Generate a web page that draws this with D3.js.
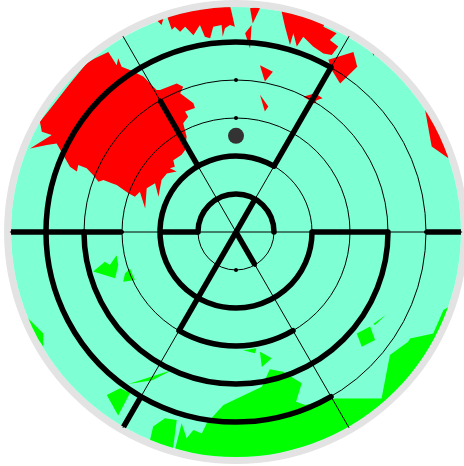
<!DOCTYPE html>
<html><head><meta charset="utf-8">
<script src="https://cdn.jsdelivr.net/npm/d3@7"></script>
<style>html,body{margin:0;padding:0;background:#fff;}svg{display:block;}</style>
</head><body>
<svg id="chart" width="464" height="466"></svg>
<script>
// ---- data (ring units; angles in degrees clockwise from top) ----
const ringRadii = [1, 2, 3, 4, 5];
const spokeAngles = [30, 90, 150, 210, 270, 330];
const dotAngles = [0, 30, 90, 150, 180, 210, 270, 330];
const outerRing = 5.92;
// thick wall arcs: [ring, startAngle, endAngle]
const wallArcRing = [1, 2, 3, 4, 5];
const wallArcStart = [-90, 90, 150, 90, 150];
const wallArcEnd = [90, 390, 210, 270, 390];
// thick wall spoke segments: [angle, fromRing, toRing]
const wallSpokeAngle = [30, 30, 90, 90, 150, 210, 210, 270, 270, 330];
const wallSpokeFrom = [0, 2, 2, 5, 0, 0, 5, 1, 3, 2];
const wallSpokeTo = [1, 5, 4, 6, 1, 3, 6, 2, 6, 4];
const marker = [0, 2.53];
// regions, [x, y] in ring units
const redRegions = [
  [[-3.71,4.57],[-3.36,4.74],[-3.14,4.39],[-3.10,4.57],[-3.01,4.35],[-2.79,4.26],[-2.44,4.09],[-2.09,3.74],[-2.00,3.74],[-1.56,3.91],[-1.39,3.82],[-1.47,3.65],[-1.12,3.39],[-1.08,3.26],[-1.34,3.17],[-1.26,3.03],[-1.39,2.86],[-1.30,2.51],[-1.34,2.16],[-1.43,2.03],[-1.65,1.89],[-1.61,1.72],[-1.74,1.68],[-1.56,1.59],[-1.82,1.54],[-1.96,1.37],[-2.04,0.93],[-2.13,1.28],[-2.35,1.15],[-2.39,0.62],[-2.53,1.06],[-2.66,0.93],[-2.83,1.02],[-3.14,1.24],[-3.27,1.28],[-3.49,1.37],[-3.62,1.32],[-3.76,1.50],[-3.93,1.68],[-4.15,1.76],[-4.19,1.59],[-4.37,1.72],[-4.72,2.33],[-4.98,2.29],[-5.42,2.20],[-4.85,2.55],[-5.11,2.64],[-5.16,2.90],[-4.81,3.34],[-4.37,3.91],[-3.93,4.44]],
  [[-2.09,5.58],[-1.91,5.62],[-1.96,5.45]],
  [[-1.82,5.71],[-1.43,5.84],[-1.21,6.16],[-0.21,6.16],[-0.11,5.76],[-0.03,5.40],[-0.16,5.45],[-0.29,5.36],[-0.35,5.14],[-0.38,5.45],[-0.60,5.40],[-0.68,5.10],[-0.82,5.14],[-0.95,5.45],[-1.12,5.18],[-1.21,5.27],[-1.34,5.40],[-1.47,5.27],[-1.61,5.40],[-1.69,5.32],[-1.78,5.58]],
  [[0.37,5.89],[0.65,5.93],[0.44,5.49]],
  [[0.24,5.23],[0.41,5.45],[0.37,4.83]],
  [[1.20,5.80],[1.21,5.97],[2.47,5.84],[2.30,5.40],[2.65,5.23],[2.47,5.05],[2.69,4.88],[2.52,4.66],[2.30,4.70],[2.03,4.88],[1.77,5.14],[1.60,4.88],[1.51,5.23],[1.42,4.92],[1.29,5.40]],
  [[2.43,4.53],[3.09,4.74],[3.19,4.35],[2.74,3.91],[2.52,4.26]],
  [[0.63,4.39],[0.97,4.22],[0.76,3.96]],
  [[0.63,3.61],[0.85,3.30],[0.76,3.17]],
  [[1.77,3.56],[2.08,3.65],[2.28,3.52],[2.12,3.47],[2.08,3.38]],
  [[4.96,3.30],[6.16,2.95],[5.59,1.94],[5.15,2.25]],
  [[3.58,4.74],[3.68,4.72],[3.62,4.64]]
];
const greenRegions = [
  [[-2.26,-5.47],[-2.18,-5.12],[-1.87,-4.90],[-1.56,-4.95],[-1.65,-5.65],[-1.87,-6.26],[-2.53,-6.26]],
  [[-1.61,-5.74],[-1.43,-5.03],[-1.30,-5.43],[-1.12,-5.21],[-0.90,-5.30],[-0.77,-5.03],[-0.33,-4.55],[0.68,-4.07],[0.89,-3.61],[1.24,-3.68],[1.73,-3.98],[1.58,-4.47],[1.82,-4.55],[2.61,-4.38],[3.83,-4.38],[4.05,-3.24],[4.53,-2.89],[4.58,-2.80],[5.19,-2.67],[5.46,-2.05],[5.68,-1.92],[6.4,-6.5],[-1.74,-6.5]],
  [[3.18,-2.67],[3.53,-2.49],[3.66,-2.84],[3.31,-3.02]],
  [[3.61,-2.42],[3.95,-2.18],[3.66,-2.45]],
  [[0.63,-3.15],[0.94,-3.32],[0.68,-3.55]],
  [[0.19,-3.11],[0.54,-3.06],[0.50,-3.19]],
  [[-2.83,-4.0],[-1.68,-3.63],[-2.2,-3.9]],
  [[-3.76,-1.04],[-3.45,-0.78],[-3.32,-0.87],[-3.14,-0.61],[-3.10,-0.87],[-3.18,-1.22]],
  [[-2.92,-1.09],[-2.79,-0.96],[-2.66,-1.26],[-2.97,-1.31]],
  [[-5.47,-2.27],[-5.07,-2.67],[-5.07,-3.02],[-5.16,-2.89],[-5.82,-2.58]],
  [[-3.40,-4.29],[-3.05,-4.11],[-2.79,-4.24],[-3.10,-4.83]]
];

// ---- layout ----
const cx = 236, cy = 232, unit = 38;
const x = d3.scaleLinear().domain([-6, 6]).range([cx - 6 * unit, cx + 6 * unit]);
const y = d3.scaleLinear().domain([-6, 6]).range([cy + 6 * unit, cy - 6 * unit]);
const r = d3.scaleLinear().domain([0, 6]).range([0, 6 * unit]);
const toRad = d => (d - 90) * Math.PI / 180; // screen angle

const svg = d3.select('#chart');
const defs = svg.append('defs');
defs.append('clipPath').attr('id', 'disk')
  .append('circle').attr('cx', cx).attr('cy', cy).attr('r', r(outerRing));

svg.append('circle').attr('cx', cx).attr('cy', cy).attr('r', r(outerRing) + 3.5)
  .attr('fill', 'none').attr('stroke', '#e3e3e3').attr('stroke-width', 7);
svg.append('circle').attr('cx', cx).attr('cy', cy).attr('r', r(outerRing))
  .attr('fill', '#7fffd4');

const regions = svg.append('g').attr('clip-path', 'url(#disk)');
const line = d3.line().x(d => x(d[0])).y(d => y(d[1])).curve(d3.curveLinearClosed);
regions.selectAll('path.red').data(redRegions).join('path')
  .attr('class', 'red').attr('d', line).attr('fill', '#ff0000');
regions.selectAll('path.green').data(greenRegions).join('path')
  .attr('class', 'green').attr('d', line).attr('fill', '#00ff00');

// thin grid
svg.append('g').selectAll('circle').data(ringRadii).join('circle')
  .attr('cx', cx).attr('cy', cy).attr('r', d => r(d))
  .attr('fill', 'none').attr('stroke', '#000').attr('stroke-width', 1);
svg.append('g').selectAll('line').data(spokeAngles).join('line')
  .attr('x1', cx).attr('y1', cy)
  .attr('x2', d => cx + r(5.95) * Math.cos(toRad(d)))
  .attr('y2', d => cy + r(5.95) * Math.sin(toRad(d)))
  .attr('stroke', '#000').attr('stroke-width', 1);

// thick walls
const arcPath = (ring, a0, a1) => {
  const p = d3.path();
  p.arc(cx, cy, r(ring), toRad(a0), toRad(a1), false);
  return p.toString();
};
const walls = svg.append('g').attr('fill', 'none').attr('stroke', '#000')
  .attr('stroke-width', 5.5).attr('stroke-linecap', 'round');
walls.selectAll('path').data(wallArcRing.map((d, i) => i)).join('path')
  .attr('d', i => arcPath(wallArcRing[i], wallArcStart[i], wallArcEnd[i]));
walls.selectAll('line').data(wallSpokeAngle.map((d, i) => i)).join('line')
  .attr('x1', i => cx + r(wallSpokeFrom[i]) * Math.cos(toRad(wallSpokeAngle[i])))
  .attr('y1', i => cy + r(wallSpokeFrom[i]) * Math.sin(toRad(wallSpokeAngle[i])))
  .attr('x2', i => cx + r(Math.min(wallSpokeTo[i], 5.92)) * Math.cos(toRad(wallSpokeAngle[i])))
  .attr('y2', i => cy + r(Math.min(wallSpokeTo[i], 5.92)) * Math.sin(toRad(wallSpokeAngle[i])))
  .attr('stroke-linecap', 'butt');

// junction dots
const dots = [];
ringRadii.forEach(rr => dotAngles.forEach(a => dots.push([rr, a])));
svg.append('g').selectAll('circle').data(dots).join('circle')
  .attr('cx', d => cx + r(d[0]) * Math.cos(toRad(d[1])))
  .attr('cy', d => cy + r(d[0]) * Math.sin(toRad(d[1])))
  .attr('r', 2).attr('fill', '#000');

// marker
svg.append('circle').attr('cx', x(marker[0])).attr('cy', y(marker[1])).attr('r', 8)
  .attr('fill', '#333');
</script>
</body></html>
